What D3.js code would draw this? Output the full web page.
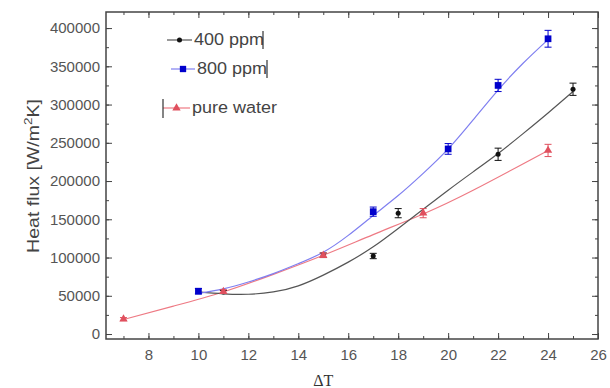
<!DOCTYPE html>
<html>
<head>
    <meta charset="utf-8">
    <title>Heat flux vs dT</title>
    <script type="text/javascript" src="https://d3js.org/d3.v7.min.js"></script>
    <style>
        body { margin: 0; background: white; }
        .canvas { font-family: Arial, "Liberation Sans", sans-serif; background-color: white; }
        .tick text { fill: #555; font-size: 15px; }
        .domain { display: none; }
        .tick line { stroke: #444; }
    </style>
</head>
<body>
    <svg class="canvas" width="610" height="388"></svg>
    <script type="text/javascript">
        // measured points
        var ppm400X = [11, 15, 17, 18, 22, 25]
        var ppm400Y = [55000, 103000, 102000, 158000, 235000, 320000]
        var ppm400Err = [2000, 3000, 3500, 6000, 8000, 8000]

        var ppm800X = [10, 17, 20, 22, 24]
        var ppm800Y = [56000, 160000, 242000, 325000, 386000]
        var ppm800Err = [3500, 6000, 7000, 8000, 11000]

        var waterX = [7, 11, 15, 19, 24]
        var waterY = [19500, 55500, 103000, 158000, 240000]
        var waterErr = [2000, 2500, 3000, 6000, 8000]

        // fitted curves
        var fit400X = [10, 11, 12, 13, 14, 15, 16, 17, 18, 19, 20, 21, 22, 23, 24, 25]
        var fit400Y = [55000, 52500, 52000, 55000, 63000, 77000, 94000, 114000, 138000, 163000, 188000, 212000, 236000, 262000, 289000, 317000]
        var fit800X = [10, 11, 12, 13, 14, 15, 16, 17, 18, 19, 20, 21, 22, 23, 24]
        var fit800Y = [53000, 59000, 68000, 79000, 92000, 107000, 129000, 155000, 181000, 210000, 242000, 280000, 319000, 354000, 385000]
        var fitWaterX = [7, 9, 11, 13, 15, 17, 19, 21, 24]
        var fitWaterY = [19000, 36500, 55000, 78000, 103000, 130000, 157000, 188000, 240000]

        var xTicks = [8, 10, 12, 14, 16, 18, 20, 22, 24, 26]
        var yTicks = [0, 50000, 100000, 150000, 200000, 250000, 300000, 350000, 400000]

        var pL = 106, pR = 598, pT = 12, pB = 339

        var svg = d3.select('.canvas')

        var x = d3.scaleLinear().domain([6.3, 26]).range([pL, pR])
        var y = d3.scaleLinear().domain([-6500, 421000]).range([pB, pT])

        var xMinor = d3.range(7, 27, 1)
        var yMinor = d3.range(0, 425000, 25000)

        // minor ticks (all four sides)
        svg.append('g').attr('transform', 'translate(0,' + pB + ')')
            .call(d3.axisBottom(x).tickValues(xMinor).tickSize(-3).tickFormat(''))
        svg.append('g').attr('transform', 'translate(0,' + pT + ')')
            .call(d3.axisTop(x).tickValues(xMinor).tickSize(-3).tickFormat(''))
        svg.append('g').attr('transform', 'translate(' + pL + ',0)')
            .call(d3.axisLeft(y).tickValues(yMinor).tickSize(-3).tickFormat(''))
        svg.append('g').attr('transform', 'translate(' + pR + ',0)')
            .call(d3.axisRight(y).tickValues(yMinor).tickSize(-3).tickFormat(''))

        // major ticks
        svg.append('g').attr('transform', 'translate(0,' + pB + ')')
            .call(d3.axisBottom(x).tickValues(xTicks).tickSizeInner(-6).tickSizeOuter(0).tickPadding(10).tickFormat(d3.format('d')))
        svg.append('g').attr('transform', 'translate(0,' + pT + ')')
            .call(d3.axisTop(x).tickValues(xTicks).tickSize(-6).tickFormat(''))
        svg.append('g').attr('transform', 'translate(' + pL + ',0)')
            .call(d3.axisLeft(y).tickValues(yTicks).tickSizeInner(-6).tickSizeOuter(0).tickPadding(6).tickFormat(d3.format('d')))
        svg.append('g').attr('transform', 'translate(' + pR + ',0)')
            .call(d3.axisRight(y).tickValues(yTicks).tickSize(-6).tickFormat(''))

        // frame
        svg.append('rect')
            .attr('x', pL).attr('y', pT)
            .attr('width', pR - pL).attr('height', pB - pT)
            .attr('fill', 'none').attr('stroke', '#444').attr('stroke-width', 1.5)

        // axis titles
        svg.append('text')
            .attr('x', x(15.0)).attr('y', 386)
            .attr('text-anchor', 'middle')
            .style('font-family', '"Liberation Serif", "DejaVu Serif", serif')
            .style('font-size', '16px').style('fill', '#333')
            .text('ΔT')

        var yt = svg.append('text')
            .attr('transform', 'translate(39,176) rotate(-90) scale(1.22,1)')
            .attr('text-anchor', 'middle')
            .style('font-size', '16px').style('fill', '#444')
        yt.append('tspan').text('Heat flux [W/m')
        yt.append('tspan').attr('dy', -7).style('font-size', '11px').text('2')
        yt.append('tspan').attr('dy', 7).text('K]')

        var line = d3.line()
            .x(function(d) { return x(d[0]) })
            .y(function(d) { return y(d[1]) })
            .curve(d3.curveNatural)

        var series = [
            { fx: fitWaterX, fy: fitWaterY, px: waterX, py: waterY, err: waterErr, line: '#ee7a84', mark: '#e0505e', shape: 'tri' },
            { fx: fit400X, fy: fit400Y, px: ppm400X, py: ppm400Y, err: ppm400Err, line: '#555', mark: '#111', shape: 'dot' },
            { fx: fit800X, fy: fit800Y, px: ppm800X, py: ppm800Y, err: ppm800Err, line: '#7f7ff0', mark: '#0000cc', shape: 'sq' }
        ]

        series.forEach(function(s) {
            svg.append('path')
                .datum(d3.zip(s.fx, s.fy))
                .attr('d', line)
                .attr('fill', 'none')
                .attr('stroke', s.line)
                .attr('stroke-width', 1.2)
        })

        // draw 400 ppm and water points first, then 800
        var order = [series[1], series[0], series[2]]
        order.forEach(function(s) {
            var pts = d3.zip(s.px, s.py, s.err)
            var g = svg.append('g')
            g.selectAll('.err')
                .data(pts).enter()
                .append('path')
                .attr('d', function(d) {
                    var cx = x(d[0]), y1 = y(d[1] + d[2]), y2 = y(d[1] - d[2])
                    return 'M' + cx + ',' + y1 + 'V' + y2 +
                        'M' + (cx - 3.5) + ',' + y1 + 'H' + (cx + 3.5) +
                        'M' + (cx - 3.5) + ',' + y2 + 'H' + (cx + 3.5)
                })
                .attr('stroke', s.mark).attr('stroke-width', 1).attr('fill', 'none')
            var sym = s.shape === 'sq' ? d3.symbolSquare : (s.shape === 'tri' ? d3.symbolTriangle : d3.symbolCircle)
            var size = s.shape === 'sq' ? 45 : (s.shape === 'tri' ? 30 : 20)
            g.selectAll('.pt')
                .data(pts).enter()
                .append('path')
                .attr('transform', function(d) { return 'translate(' + x(d[0]) + ',' + y(d[1]) + ')' })
                .attr('d', d3.symbol().type(sym).size(size))
                .attr('fill', s.mark)
        })

        // legend
        var legend = [
            { label: '400 ppm', x0: 167, x1: 192, y: 40, color: '#111', line: '#555', shape: 'dot', tx: 194, bar: 263 },
            { label: '800 ppm', x0: 171, x1: 195, y: 69, color: '#0000cc', line: '#7f7ff0', shape: 'sq', tx: 197, bar: 267 },
            { label: 'pure water', x0: 163, x1: 190, y: 108, color: '#e0505e', line: '#ee7a84', shape: 'tri', tx: 192, bar: null }
        ]
        legend.forEach(function(l) {
            svg.append('line')
                .attr('x1', l.x0).attr('x2', l.x1).attr('y1', l.y).attr('y2', l.y)
                .attr('stroke', l.line).attr('stroke-width', 1.2)
            var sym = l.shape === 'sq' ? d3.symbolSquare : (l.shape === 'tri' ? d3.symbolTriangle : d3.symbolCircle)
            var size = l.shape === 'sq' ? 40 : (l.shape === 'tri' ? 30 : 20)
            svg.append('path')
                .attr('transform', 'translate(' + ((l.x0 + l.x1) / 2) + ',' + l.y + ')')
                .attr('d', d3.symbol().type(sym).size(size))
                .attr('fill', l.color)
            svg.append('text')
                .attr('x', l.tx).attr('y', l.y + 5.5)
                .attr('transform', 'translate(' + l.tx + ',0) scale(1.06,1) translate(' + (-l.tx) + ',0)')
                .style('font-size', '17px').style('fill', '#444')
                .text(l.label)
            if (l.bar) {
                svg.append('line')
                    .attr('x1', l.bar).attr('x2', l.bar).attr('y1', l.y - 9).attr('y2', l.y + 9)
                    .attr('stroke', '#333').attr('stroke-width', 1.2)
            }
        })
        svg.append('line')
            .attr('x1', 163).attr('x2', 163).attr('y1', 99).attr('y2', 118)
            .attr('stroke', '#333').attr('stroke-width', 1.2)
    </script>
</body>
</html>
